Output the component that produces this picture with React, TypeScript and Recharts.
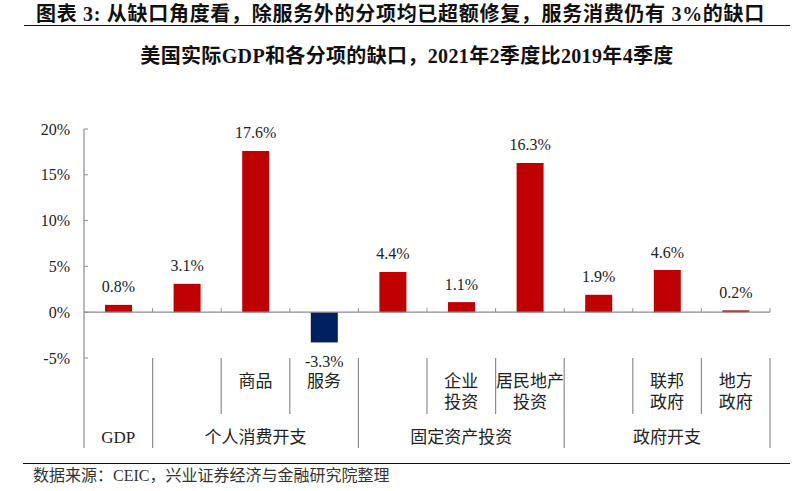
import { BarChart, Bar, XAxis, YAxis, ReferenceLine, LabelList, Cell } from "recharts";

const categories = ["GDP", "个人消费开支", "商品", "服务", "固定资产投资", "企业投资", "居民地产投资", "政府开支", "联邦政府", "地方政府"];
const values = [0.8, 3.1, 17.6, -3.3, 4.4, 1.1, 16.3, 1.9, 4.6, 0.2];
const subLabels = [[], [], ["商品"], ["服务"], [], ["企业", "投资"], ["居民地产", "投资"], [], ["联邦", "政府"], ["地方", "政府"]];
const groupLabels = ["GDP", "个人消费开支", "固定资产投资", "政府开支"];
const groupStarts = [0, 1, 4, 7];
const groupSizes = [1, 3, 3, 3];
const yTicks = [-5, 0, 5, 10, 15, 20];

const data = categories.map((name, i) => ({ name, value: values[i] }));

const W = 800;
const H = 491;
const M = { top: 129, right: 30, left: 24, bottom: 33 };
const Y_AXIS_W = 60;
const X_AXIS_H = 100;
const PLOT_W = W - M.left - Y_AXIS_W - M.right;
const PLOT_H = H - M.top - M.bottom - X_AXIS_H;
const BW = PLOT_W / categories.length;

const RED = "#C00000";
const BLUE = "#002060";
const GRID = "#8c8c8c";
const FONT = '"Liberation Serif", "Noto Sans CJK SC", serif';

function CategoryTick(props: any) {
  const { x, y, index } = props;
  const left = x - BW / 2;
  const right = x + BW / 2;
  const zeroY = y - (PLOT_H * 5) / 25;
  const g = groupStarts.indexOf(index);
  const isLast = index === categories.length - 1;
  const lines = subLabels[index] || [];
  return (
    <g>
      <line x1={left} x2={left} y1={y} y2={y + (g >= 0 ? 90 : 56)} stroke={GRID} strokeWidth={1.2} />
      {isLast && <line x1={right} x2={right} y1={y} y2={y + 90} stroke={GRID} strokeWidth={1.2} />}
      {index > 0 && <line x1={left} x2={left} y1={zeroY - 4} y2={zeroY} stroke={GRID} />}
      {isLast && <line x1={right} x2={right} y1={zeroY - 4} y2={zeroY} stroke={GRID} />}
      {lines.map((t: string, k: number) => (
        <text key={k} x={x} y={y + 23 + k * 21} textAnchor="middle" dominantBaseline="central" fontSize={17} fill="#222" fontFamily={FONT}>
          {t}
        </text>
      ))}
      {g >= 0 && (
        <text x={x + ((groupSizes[g] - 1) / 2) * BW} y={y + 79} textAnchor="middle" dominantBaseline="central" fontSize={17} fill="#222" fontFamily={FONT}>
          {groupLabels[g]}
        </text>
      )}
    </g>
  );
}

function ValueLabel(props: any) {
  const { x, y, width, height, value } = props;
  const top = Math.min(y, y + height);
  const bottom = Math.max(y, y + height);
  const ly = value < 0 ? bottom + 19 : top - 18;
  return (
    <text x={x + width / 2} y={ly} textAnchor="middle" dominantBaseline="central" fontSize={16} fill="#222" fontFamily={FONT}>
      {value.toFixed(1)}%
    </text>
  );
}

export default function App() {
  return (
    <div style={{ position: "absolute", left: 0, top: 0, width: W, height: H, background: "#fff", fontFamily: FONT }}>
      <div style={{ position: "absolute", left: 36, top: 2, fontSize: 20, fontWeight: 700, color: "#111", whiteSpace: "nowrap", lineHeight: "24px", letterSpacing: 0.7 }}>
        图表 3: 从缺口角度看，除服务外的分项均已超额修复，服务消费仍有 3%的缺口
      </div>
      <div style={{ position: "absolute", left: 24, top: 25, width: 766, height: 0, borderTop: "1.5px solid #111" }} />
      <div style={{ position: "absolute", left: 0, width: 814, top: 44, textAlign: "center", fontSize: 20, fontWeight: 700, color: "#111", lineHeight: "24px", letterSpacing: 0.35 }}>
        美国实际GDP和各分项的缺口，2021年2季度比2019年4季度
      </div>
      <div style={{ position: "absolute", left: 23, top: 463, width: 767, height: 0, borderTop: "1.5px solid #111" }} />
      <div style={{ position: "absolute", left: 33, top: 465, fontSize: 16, color: "#333", whiteSpace: "nowrap", lineHeight: "22px" }}>
        数据来源：CEIC，兴业证券经济与金融研究院整理
      </div>
      <div style={{ position: "absolute", left: 0, top: 0 }}>
        <BarChart width={W} height={H} data={data} margin={M} barSize={27}>
          <XAxis
            dataKey="name"
            axisLine={false}
            tickLine={false}
            tickSize={0}
            tickMargin={0}
            interval={0}
            height={X_AXIS_H}
            tick={<CategoryTick />}
          />
          <YAxis
            width={Y_AXIS_W}
            domain={[-5, 20]}
            ticks={yTicks}
            tickFormatter={(v: number) => `${v}%`}
            axisLine={{ stroke: GRID, strokeWidth: 1.2 }}
            tickLine={{ stroke: GRID }}
            tickSize={-4}
            tickMargin={18}
            tick={{ fontSize: 16, fill: "#222", fontFamily: FONT }}
          />
          <ReferenceLine y={0} stroke={GRID} strokeWidth={1.2} />
          <Bar dataKey="value" isAnimationActive={false}>
            {data.map((d, i) => (
              <Cell key={i} fill={d.value < 0 ? BLUE : RED} />
            ))}
            <LabelList dataKey="value" content={<ValueLabel />} />
          </Bar>
        </BarChart>
      </div>
    </div>
  );
}
